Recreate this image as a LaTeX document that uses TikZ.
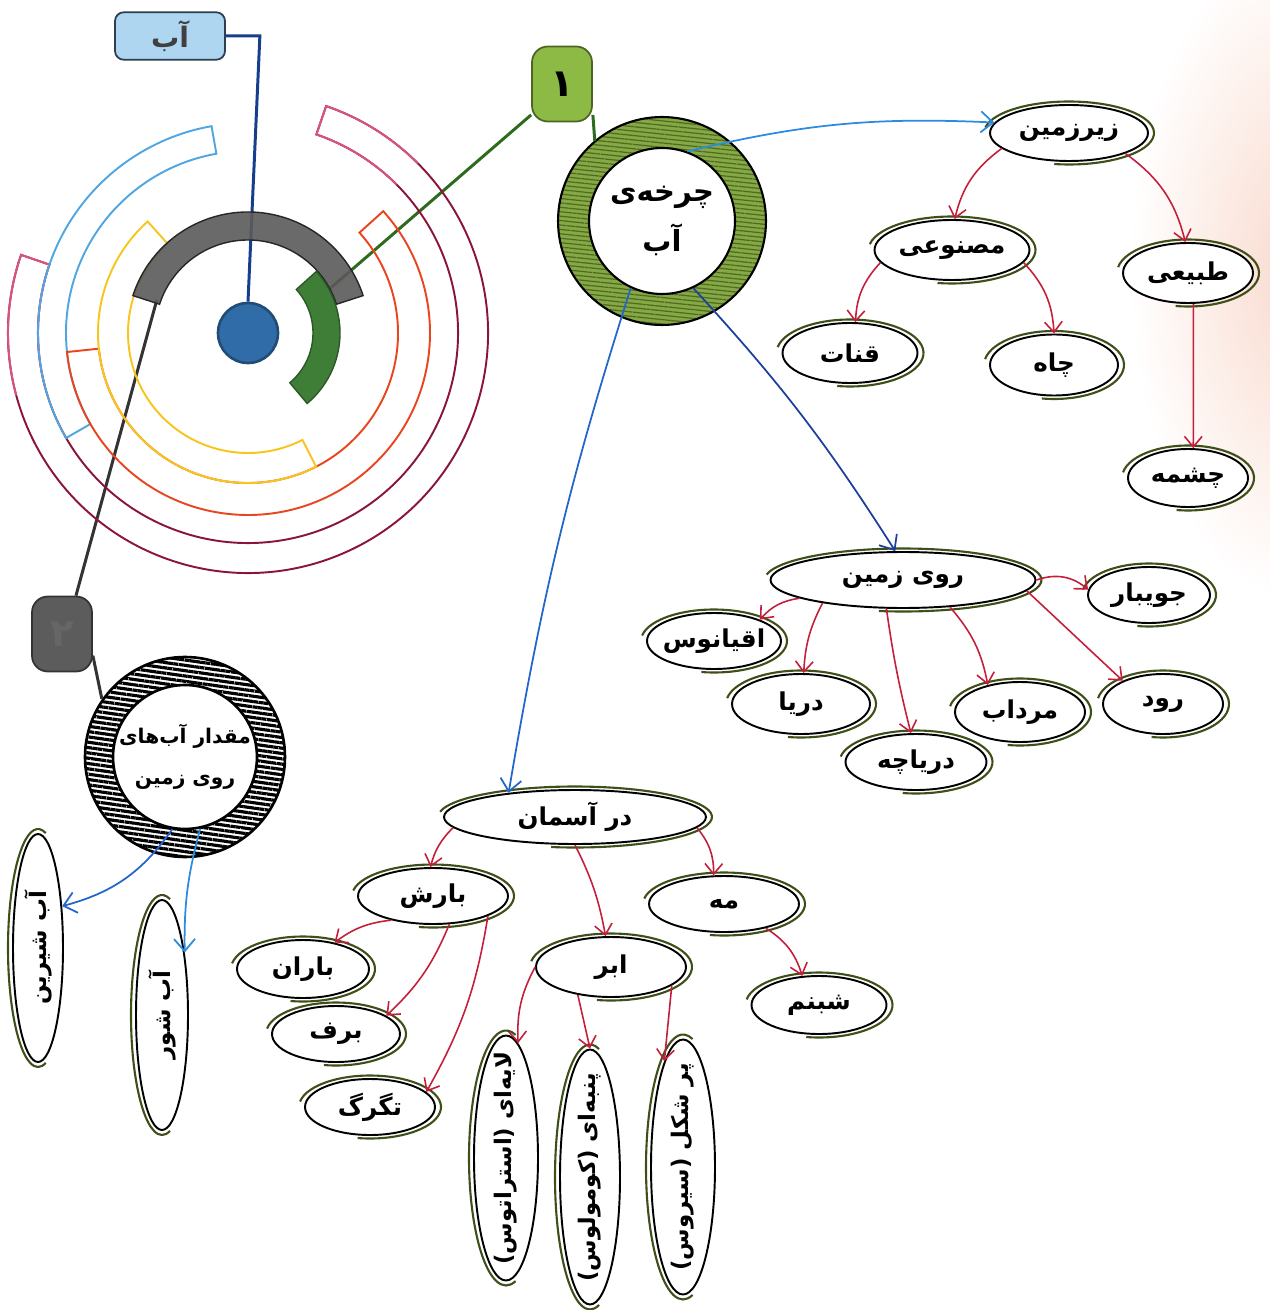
\documentclass[tikz,border=0pt]{standalone}
\usepackage{fontspec}
\newfontfamily\fa[Script=Arabic]{DejaVu Sans}
\TeXXeTstate=1
\usetikzlibrary{calc,positioning,shapes.geometric,arrows.meta,patterns.meta}
\pgfdeclarelayer{bg}
\pgfsetlayers{bg,main}
\newcommand\rl[1]{\beginR #1\endR}
\definecolor{arrred}{HTML}{C41E3A}
\definecolor{skgreen}{HTML}{3E4F18}
\definecolor{ringgreen}{HTML}{86A845}
\definecolor{ringdark}{HTML}{4E6B22}
\definecolor{badgegreen}{HTML}{8CBA45}
\definecolor{badgegray}{HTML}{5C5C5C}
\definecolor{arcgray}{HTML}{5A5A5A}
\definecolor{arcgreen}{HTML}{3F7E37}
\definecolor{dotblue}{HTML}{2F6CA8}
\definecolor{boxblue}{HTML}{AED6F1}
\definecolor{boxedge}{HTML}{2C3E50}
\definecolor{lineblue}{HTML}{163E8C}
\definecolor{linegreen}{HTML}{2E6B1E}
\definecolor{maroon}{HTML}{8B1538}
\definecolor{pinkend}{HTML}{D9537F}
\definecolor{skyblue}{HTML}{4FA6E0}
\definecolor{orangered}{HTML}{E8461E}
\definecolor{goldyellow}{HTML}{F7C51E}
\definecolor{lightarr}{HTML}{2B8BE0}
\definecolor{navyarr}{HTML}{1E3F9C}
\definecolor{midarr}{HTML}{2266CC}
\definecolor{blush}{HTML}{F9D9CC}
\begin{document}
\begin{tikzpicture}[x=0.02cm,y=-0.02cm,
  every node/.style={font=\fa\bfseries\fontsize{14}{17}\selectfont},
  leaf/.style={ellipse,draw,line width=1.1pt,inner xsep=-0.8cm,inner ysep=-0.1cm,fill=white},
  upright/.style={leaf,rotate=90,font=\fa\bfseries\fontsize{13}{16}\selectfont},
  skline/.style={draw=skgreen,line width=1.2pt},
  arr/.style={draw=arrred,line width=0.9pt,-{Straight Barb[length=6pt,width=10pt]}},
  barr/.style={line width=1pt,-{Straight Barb[length=7pt,width=12pt]}},
  badge/.style={draw,rounded corners=9pt,line width=1pt,minimum width=1.2cm,minimum height=1.5cm,font=\fa\bfseries\fontsize{22}{22}\selectfont},
  link/.style={line width=1.7pt}]
\useasboundingbox (0,0) rectangle (1269,1310);
\shade[inner color=blush,outer color=white] (1300,270) ellipse[x radius=170,y radius=330];
% colour rings
\begin{scope}[shift={(248,333)},y=0.02cm]
\draw[maroon,line width=1.1pt] (161:210) arc[start angle=161,end angle=431,radius=210] -- (431:240) arc[start angle=431,end angle=161,radius=240] -- cycle;
\draw[pinkend,line width=1.1pt] (405:210) arc[start angle=405,end angle=431,radius=210] -- (431:240) arc[start angle=431,end angle=405,radius=240];
\draw[pinkend,line width=1.1pt] (195:210) arc[start angle=195,end angle=161,radius=210] -- (161:240) arc[start angle=161,end angle=195,radius=240];
\draw[skyblue,line width=1.1pt] (100:182) arc[start angle=100,end angle=210,radius=182] -- (210:210) arc[start angle=210,end angle=100,radius=210] -- cycle;
\draw[orangered,line width=1.1pt] (-174:150) arc[start angle=-174,end angle=42,radius=150] -- (42:182) arc[start angle=42,end angle=-174,radius=182] -- cycle;
\draw[goldyellow,line width=1.1pt] (132:120) arc[start angle=132,end angle=297,radius=120] -- (297:150) arc[start angle=297,end angle=132,radius=150] -- cycle;
\filldraw[fill=arcgray,draw=black!85,line width=0.8pt,fill opacity=0.9] (18:93) arc[start angle=18,end angle=162,radius=93] -- (162:121) arc[start angle=162,end angle=18,radius=121] -- cycle;
\filldraw[fill=arcgreen,draw=arcgreen!70!black,line width=0.8pt] (-50:65) arc[start angle=-50,end angle=42,radius=65] -- (42:92) arc[start angle=42,end angle=-50,radius=92] -- cycle;
\node[circle,fill=dotblue,draw=dotblue!70!black,line width=1.5pt,minimum size=1.2cm] (core) at (0,0) {};
\coordinate (gtip) at (28:90);
\coordinate (ktip) at (160:97);
\end{scope}
\node[draw=boxedge,fill=boxblue,rounded corners=5pt,line width=1pt,minimum width=2.2cm,minimum height=0.95cm,text=black!75,font=\fa\bfseries\fontsize{16}{18}\selectfont] (ab) at (170,36) {\rl{آب}};
% hub circles
\node[circle,minimum size=4.16cm,draw,line width=1.2pt,preaction={fill=ringgreen},pattern={Lines[angle=-6,distance=2.5pt,line width=0.7pt]},pattern color=ringdark] (ring1o) at (662,221) {};
\node[circle,minimum size=2.92cm,inner sep=-0.3cm,fill=white,draw,line width=1.2pt,align=center,font=\fa\bfseries\fontsize{16.5}{19}\selectfont] (ring1) at (ring1o) {\rl{چرخه‌ی}\\[8pt]\rl{آب}};
\node[badge,fill=badgegreen,draw=badgegreen!55!black] (one) at (562,84) {۱};
\node[circle,minimum size=4cm,draw,line width=1.5pt,preaction={fill=white},pattern={Lines[angle=-8,distance=3pt,line width=1.8pt]},pattern color=black] (ring2o) at (185,757) {};
\node[circle,minimum size=2.88cm,inner sep=-0.4cm,fill=white,draw,line width=1.5pt,align=center,font=\fa\bfseries\fontsize{11.5}{14}\selectfont] (ring2) at (ring2o) {\rl{مقدار آب‌های}\\[9pt]\rl{روی زمین}};
\node[badge,fill=badgegray,draw=black!80,text=black!60] (two) at (62,634) {۲};
\begin{pgfonlayer}{bg}
\draw[link,draw=lineblue] (ab.east) -- ++(34,0) -- (core.north);
\draw[link,draw=linegreen] (gtip) -- (one.225);
\draw[link,draw=black!80] (ktip) -- (two.70);
\end{pgfonlayer}
\draw[link,draw=linegreen] (one.-45) -- (ring1o.130);
\draw[link,draw=black!80] (two.-35) -- (ring2o.145);
% lying ellipses
\foreach \n/\p/\ww/\hh/\txt in {zir/{1069,133}/3.16/1.12/زیرزمین, masn/{952,250}/3.1/1.2/مصنوعی,
  tabi/{1188,273}/2.6/1.2/طبیعی, qanat/{850,353}/2.7/1.2/قنات, chah/{1054,365}/2.56/1.22/چاه,
  cheshme/{1188,478}/2.4/1.16/چشمه, ruy/{903,580}/5.3/1.12/روی زمین, juy/{1149,595}/2.44/1.12/جویبار,
  oqy/{714,641}/2.68/1.12/اقیانوس, darya/{801,704}/2.76/1.2/دریا, daryache/{916,762}/2.82/1.12/دریاچه,
  mordab/{1020,712}/2.6/1.2/مرداب, rud/{1163,704}/2.4/1.2/رود, asman/{575,817}/5.24/1.08/در آسمان,
  barsh/{433,896}/3.0/1.12/بارش, meh/{724,904}/3.0/1.12/مه, abr/{611,967}/3.0/1.2/ابر,
  shabnam/{819,1005}/2.7/1.16/شبنم, baran/{303,969}/2.64/1.16/باران, barf/{336,1034}/2.56/1.12/برف,
  tagarg/{370,1107}/2.6/1.12/تگرگ}
{\node[leaf,minimum width=\ww cm,minimum height=\hh cm] (\n) at (\p) {\rl{\txt}};
 \pgfmathsetmacro\ra{\ww/2+0.12}\pgfmathsetmacro\rb{\hh/2+0.07}
 \draw[skline] ([shift={(170:\ra cm and \rb cm)}]\n.center) arc[start angle=170,end angle=-100,x radius=\ra cm,y radius=\rb cm];}
% standing ellipses
\foreach \n/\p/\ww/\hh/\txt in {laye/{506,1158}/4.9/1.28/لایه‌ای (استراتوس), panbe/{590,1177}/5.1/1.2/پنبه‌ای (کومولوس),
  parshekl/{683,1167}/5.1/1.28/پر شکل (سیروس), shirin/{38,948}/4.56/1.0/آب شیرین, shur/{162,1015}/4.6/1.04/آب شور}
{\node[upright,minimum width=\ww cm,minimum height=\hh cm] (\n) at (\p) {\rl{\txt}};
 \pgfmathsetmacro\ra{\hh/2+0.1}\pgfmathsetmacro\rb{\ww/2+0.1}
 \draw[skline] ([shift={(75:\ra cm and \rb cm)}]\n.center) arc[start angle=75,end angle=285,x radius=\ra cm,y radius=\rb cm];}
% blue arrows
\draw[barr,draw=lightarr] (ring1.70) to[bend left=8] (zir.172);
\draw[barr,draw=navyarr] (ring1.-65) to[bend left=5] (ruy.105);
\draw[barr,draw=midarr] (ring1.-115) to[bend right=4] (asman.160);
\draw[barr,draw=midarr] (ring2.-100) to[bend left=20] (shirin.-30);
\draw[barr,draw=lightarr] (ring2.-78) to[bend right=8] (shur.-20);
% red arrows
\draw[arr] (zir.193) to[bend right=20] (masn.85);
\draw[arr] (zir.-20) to[bend left=20] (tabi.95);
\draw[arr] (masn.190) to[bend right=20] (qanat.80);
\draw[arr] (masn.-10) to[bend left=20] (chah.90);
\draw[arr] (tabi.-80) -- (cheshme.80);
\draw[arr] (ruy.east) to[bend left=30] (juy.175);
\draw[arr] (ruy.190) to[bend right=20] (oqy.25);
\draw[arr] (ruy.196) to[bend right=12] (darya.85);
\draw[arr] (ruy.240) to[bend right=3] (daryache.100);
\draw[arr] (ruy.-30) to[bend left=15] (mordab.140);
\draw[arr] (ruy.-5) -- (rud.150);
\draw[arr] (asman.185) to[bend right=15] (barsh.95);
\draw[arr] (asman.-90) to[bend left=8] (abr.100);
\draw[arr] (asman.-5) to[bend left=20] (meh.110);
\draw[arr] (barsh.210) to[bend right=15] (baran.40);
\draw[arr] (barsh.-60) to[bend left=12] (barf.20);
\draw[arr] (barsh.-20) to[bend left=10] (tagarg.15);
\draw[arr] (abr.180) to[bend right=15] (laye.-6);
\draw[arr] (abr.220) -- (panbe.east);
\draw[arr] (abr.-17) -- (parshekl.10);
\draw[arr] (meh.-30) to[bend left=20] (shabnam.120);
\end{tikzpicture}
\end{document}
